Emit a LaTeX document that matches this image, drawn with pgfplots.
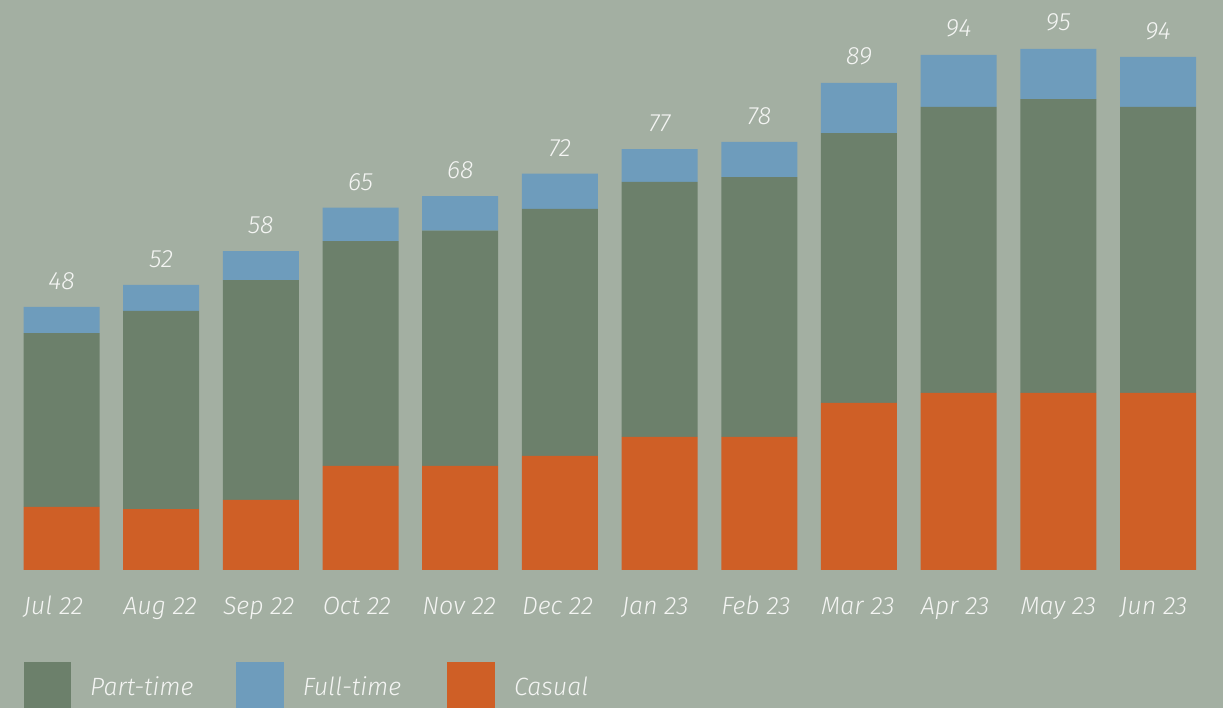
\documentclass[border=0pt]{standalone}
\usepackage{pgfplots}
\pgfplotsset{compat=1.18}
\usepackage{pgfplotstable}
\usepackage{fontspec}
\setmainfont{Fira Sans}[UprightFont={* Light}, ItalicFont={* Light Italic}]
\definecolor{bg}{HTML}{A3AFA2}
\definecolor{ptc}{HTML}{6C806B}
\definecolor{ftc}{HTML}{6E9CBC}
\definecolor{cac}{HTML}{CF5F26}
\definecolor{txt}{HTML}{F4F5F3}
\pgfplotstableread{
x label cas pt ft tot
0 48 11.5 31.7 4.8 48.0
1 52 11.1 36.2 4.7 52.0
2 58 12.8 40.1 5.3 58.2
3 65 19.0 41.0 6.1 66.1
4 68 19.0 42.9 6.3 68.2
5 72 20.8 45.1 6.4 72.3
6 77 24.3 46.5 6.0 76.8
7 78 24.3 47.4 6.4 78.1
8 89 30.5 49.2 9.2 88.9
9 94 32.3 52.2 9.5 94.0
10 95 32.3 53.6 9.2 95.1
11 94 32.3 52.2 9.1 93.6
}\datatable
\newcommand{\lab}{\itshape\fontsize{25bp}{30bp}\selectfont}
\begin{document}
\begin{tikzpicture}
\useasboundingbox (0,0) rectangle (1223bp,708bp);
\fill[bg] (0,0) rectangle (1223bp,708bp);
\begin{axis}[
  at={(0,138bp)}, anchor=south west,
  width=1223bp, height=570bp, scale only axis,
  xmin=-0.617, xmax=11.652, ymin=0, ymax=104,
  axis line style={draw=none}, tick style={draw=none},
  major tick length=0pt,
  ytick=\empty,
  xtick={0,...,11},
  xticklabels={Jul 22,Aug 22,Sep 22,Oct 22,Nov 22,Dec 22,Jan 23,Feb 23,Mar 23,Apr 23,May 23,Jun 23},
  xticklabel style={anchor=base west, inner sep=0pt, xshift=-38bp, yshift=-45bp, font=\lab, text=txt},
  ybar stacked, bar width=76bp,
  clip=false,
]
\addplot[fill=cac, draw=none] table[x=x, y=cas] {\datatable};
\addplot[fill=ptc, draw=none] table[x=x, y=pt] {\datatable};
\addplot[fill=ftc, draw=none] table[x=x, y=ft] {\datatable};
\end{axis}
\begin{axis}[
  at={(0,138bp)}, anchor=south west,
  width=1223bp, height=570bp, scale only axis,
  xmin=-0.617, xmax=11.652, ymin=0, ymax=104,
  hide axis, clip=false,
]
\addplot[draw=none, mark=none, point meta=explicit symbolic,
  nodes near coords,
  every node near coord/.append style={anchor=center, yshift=26bp, inner sep=0pt, font=\lab, text=txt}]
  table[x=x, y=tot, meta=label] {\datatable};
\end{axis}
\fill[ptc] (23.6bp,-2bp) rectangle (71.3bp,46bp);
\fill[ftc] (235.5bp,-2bp) rectangle (283.6bp,46bp);
\fill[cac] (446.5bp,-2bp) rectangle (494.6bp,46bp);
\node[anchor=base west, inner sep=0pt, font=\lab, text=txt] at (90bp,13bp) {Part-time};
\node[anchor=base west, inner sep=0pt, font=\lab, text=txt] at (302.6bp,13bp) {Full-time};
\node[anchor=base west, inner sep=0pt, font=\lab, text=txt] at (514bp,13bp) {Casual};
\end{tikzpicture}
\end{document}
